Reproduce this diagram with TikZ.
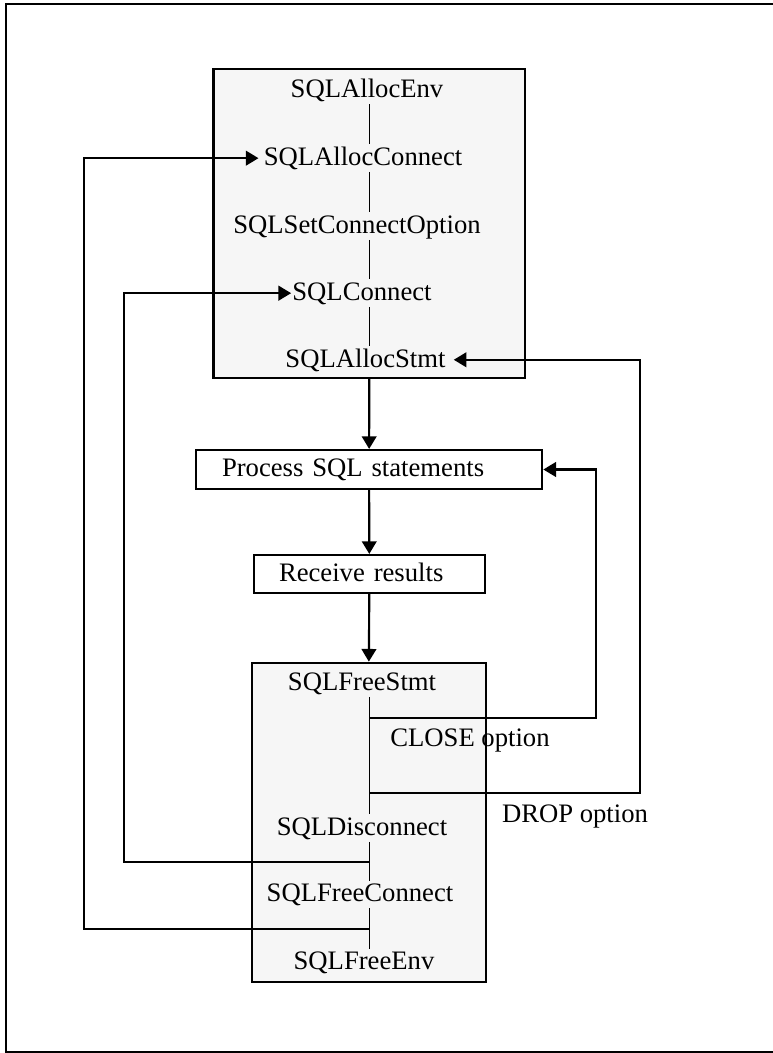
\documentclass[tikz,border=0pt]{standalone}
\usepackage{fontspec}
\setmainfont{Liberation Serif}
\usetikzlibrary{arrows.meta}
\definecolor{boxgray}{HTML}{F6F6F6}
\newdimen\pu \pu=0.75pt
\begin{document}
\begin{tikzpicture}[x=0.75pt,y=-0.75pt,
  font=\fontsize{20}{24}\selectfont,
  lbl/.style={inner xsep=0pt, inner ysep=2.4pt, text height=13.24pt, text depth=2.25pt, anchor=base},
  bigbox/.style={draw, line width=1.6pt, fill=boxgray, inner sep=0pt},
  stepbox/.style={draw, line width=1.6pt, fill=white, align=left, text height=13.24pt, text depth=2.25pt, inner ysep=0pt},
  link/.style={line width=1.4pt},
  arr/.style={line width=1.6pt, -{Triangle[length=9.5pt,width=11pt]}}]
\useasboundingbox (0,0) rectangle (772,1053);
\draw[line width=1.5pt] (775,4) -- (6,4) -- (6,1052) -- (775,1052);

% boxes
\node[bigbox, minimum width=311.5\pu, minimum height=308.7\pu] (top) at (369.25,223.35) {};
\node[bigbox, minimum width=234.3\pu, minimum height=319\pu] (bot) at (368.85,822.2) {};
\node[stepbox, minimum width=346.3\pu, minimum height=39\pu, inner xsep=26\pu, text width=294.3\pu] (proc) at (369.15,469.5) {Process SQL statements};
\node[stepbox, minimum width=231.4\pu, minimum height=37.7\pu, inner xsep=25.4\pu, text width=180.6\pu] (rec) at (369.3,573.85) {Receive results};

% texts in the top box
\node[lbl] (env) at (367,97.8) {SQLAllocEnv};
\node[lbl] (aconn) at (363,165.5) {SQLAllocConnect};
\node[lbl] (setopt) at (357,233.5) {SQLSetConnectOption};
\node[lbl] (conn) at (362,300.5) {SQLConnect};
\node[lbl] (astmt) at (365.5,367.1) {SQLAllocStmt};

% texts in the bottom box
\node[lbl] (fstmt) at (362,690.5) {SQLFreeStmt};
\node[lbl] (disc) at (362,835.5) {SQLDisconnect};
\node[lbl] (fconn) at (360,901.8) {SQLFreeConnect};
\node[lbl] (fenv) at (364,969.8) {SQLFreeEnv};

% option labels
\node[lbl] (closelbl) at (470,746.1) {CLOSE option};
\node[lbl] (droplbl) at (575,822.1) {DROP option};

% helper coordinates
\coordinate (axis) at (369.5,0);
\coordinate (jclose) at (369.5,717.7);
\coordinate (jdrop) at (369.5,792.7);
\coordinate (jdisc) at (369.5,861.7);
\coordinate (jfconn) at (369.5,929);
\coordinate (xclose) at (596,0);
\coordinate (xdrop) at (640,0);
\coordinate (xin) at (124,0);
\coordinate (xout) at (84,0);

% vertical links between the calls
\draw[link] (env.south -| axis) -- (aconn.north -| axis);
\draw[link] (aconn.south -| axis) -- (setopt.north -| axis);
\draw[link] (setopt.south -| axis) -- (conn.north -| axis);
\draw[link] (conn.south -| axis) -- (astmt.north -| axis);
\draw[link] (fstmt.south -| axis) -- (disc.north -| axis);
\draw[link] (disc.south -| axis) -- (fconn.north -| axis);
\draw[link] (fconn.south -| axis) -- (fenv.north -| axis);

% main flow
\draw[arr] (top.south) -- (proc.north);
\draw[arr] (proc.south) -- (rec.north);
\draw[arr] (rec.south) -- (bot.north);

% loops back
\draw[arr] (jclose) -| (xclose |- proc.east) -- (proc.east);
\draw[arr] (jdrop) -| (xdrop |- astmt.east) -- ([xshift=8\pu]astmt.east);
\draw[arr] (jdisc) -| (xin |- conn.west) -- ([xshift=-1\pu]conn.west);
\draw[arr] (jfconn) -| (xout |- aconn.west) -- ([xshift=-5\pu]aconn.west);
\end{tikzpicture}
\end{document}
